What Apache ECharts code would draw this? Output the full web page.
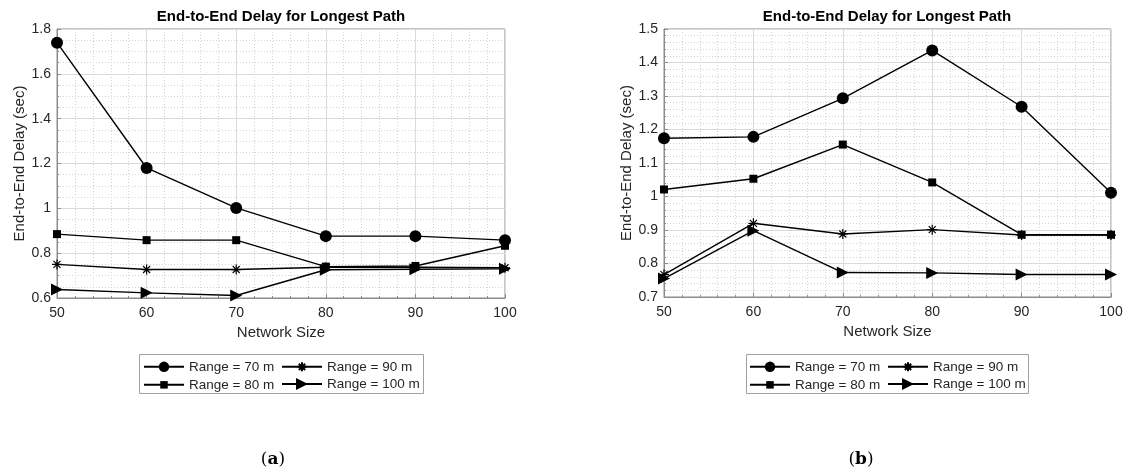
<!DOCTYPE html>
<html>
<head>
<meta charset="utf-8">
<script src="https://cdn.jsdelivr.net/npm/echarts@6/dist/echarts.min.js"></script>
<style>html,body{margin:0;padding:0;background:#fff}#c{width:1126px;height:472px}</style>
</head>
<body>
<div id="c"></div>
<script>
const networkSizes = [50, 60, 70, 80, 90, 100];
const seriesNames = ['Range = 70 m', 'Range = 80 m', 'Range = 90 m', 'Range = 100 m'];
// panel (a)
const a70 = [1.739, 1.18, 1.002, 0.876, 0.876, 0.858];
const a80 = [0.885, 0.858, 0.858, 0.740, 0.743, 0.833];
const a90 = [0.750, 0.727, 0.727, 0.737, 0.737, 0.735];
const a100 = [0.638, 0.623, 0.611, 0.726, 0.728, 0.730];
// panel (b)
const b70 = [1.174, 1.178, 1.293, 1.436, 1.268, 1.011];
const b80 = [1.021, 1.053, 1.155, 1.042, 0.886, 0.886];
const b90 = [0.767, 0.920, 0.888, 0.901, 0.885, 0.885];
const b100 = [0.755, 0.898, 0.773, 0.772, 0.767, 0.767];

const titleText = 'End-to-End Delay for Longest Path';
const xName = 'Network Size';
const yName = 'End-to-End Delay (sec)';
const captions = ['a', 'b'];

const FONT = '"Liberation Sans", Arial, sans-serif';
const AX = '#8c8c8c';
const TXT = '#262626';

const symbols = {
  'Range = 70 m': {symbol: 'circle', size: 12, legendSize: 10.5, fill: '#000'},
  'Range = 80 m': {symbol: 'rect', size: 8, legendSize: 7.5, fill: '#000'},
  'Range = 90 m': {symbol: 'path://M0,-10L0,10M-10,0L10,0M-7,-7L7,7M-7,7L7,-7', size: 10, legendSize: 9, fill: 'rgba(0,0,0,0)'},
  'Range = 100 m': {symbol: 'path://M0,0L10,5L0,10Z', size: [12, 12], legendSize: 12, fill: '#000'}
};

function pairs(vals) { return networkSizes.map((x, i) => [x, vals[i]]); }

function makeSeries(name, vals, gi) {
  const s = symbols[name];
  return {
    name: name, type: 'line', xAxisIndex: gi, yAxisIndex: gi,
    data: pairs(vals), symbol: s.symbol, symbolSize: s.size, showAllSymbol: true,
    clip: false, animation: false,
    lineStyle: {color: '#000', width: 1.4},
    itemStyle: {color: s.fill, borderColor: '#000', borderWidth: name === 'Range = 90 m' ? 1.2 : 0},
    emphasis: {disabled: true}
  };
}

function xAxis(gi) {
  return {
    type: 'value', gridIndex: gi, min: 50, max: 100, interval: 10,
    name: xName, nameLocation: 'middle', nameGap: 25,
    nameTextStyle: {fontFamily: FONT, fontSize: 15, color: TXT},
    axisLine: {show: true, lineStyle: {color: AX}},
    axisTick: {show: true, inside: true, length: 4, lineStyle: {color: AX}},
    minorTick: {show: true, splitNumber: 5, length: 2, lineStyle: {color: AX}},
    axisLabel: {fontFamily: FONT, fontSize: 14, color: TXT, margin: 8},
    splitLine: {show: true, lineStyle: {color: '#dadada', width: 1}},
    minorSplitLine: {show: true, lineStyle: {color: '#d4d4d4', width: 1, type: [1, 2]}}
  };
}
function yAxis(gi, min, max, interval, minorSplit, gap) {
  return {
    type: 'value', gridIndex: gi, min: min, max: max, interval: interval,
    name: yName, nameLocation: 'middle', nameGap: gap,
    nameTextStyle: {fontFamily: FONT, fontSize: 15, color: TXT},
    axisLine: {show: true, lineStyle: {color: AX}},
    axisTick: {show: true, inside: true, length: 4, lineStyle: {color: AX}},
    minorTick: {show: true, splitNumber: minorSplit, length: 2, lineStyle: {color: AX}},
    axisLabel: {fontFamily: FONT, fontSize: 14, color: TXT, margin: 6},
    splitLine: {show: true, lineStyle: {color: '#dadada', width: 1}},
    minorSplitLine: {show: true, lineStyle: {color: '#d4d4d4', width: 1, type: [1, 2]}}
  };
}
const TEXT_H = 13.3;
function legendItem(name, left, cy) {
  const h = symbols[name].legendSize / 0.8;
  return {
    data: [name], left: left, top: cy - Math.max(h, TEXT_H) / 2, orient: 'horizontal',
    itemWidth: 40, itemHeight: h, itemGap: 0, padding: 0,
    selectedMode: false,
    textStyle: {fontFamily: FONT, fontSize: 13.5, color: TXT}
  };
}
function legendBlock(offset) {
  return [
    legendItem(seriesNames[0], 143 + offset, 366.5),
    legendItem(seriesNames[2], 281 + offset, 366.5),
    legendItem(seriesNames[1], 143 + offset, 384.5),
    legendItem(seriesNames[3], 281 + offset, 384.5)
  ];
}

const chart = echarts.init(document.getElementById('c'), null, {renderer: 'canvas'});
chart.setOption({
  animation: false,
  backgroundColor: '#fff',
  grid: [
    {left: 57, top: 29, width: 448, height: 269, show: true, borderColor: AX, borderWidth: 1, backgroundColor: 'transparent'},
    {left: 664, top: 29, width: 447, height: 268, show: true, borderColor: AX, borderWidth: 1, backgroundColor: 'transparent'}
  ],
  xAxis: [xAxis(0), xAxis(1)],
  yAxis: [yAxis(0, 0.6, 1.8, 0.2, 4, 30), yAxis(1, 0.7, 1.5, 0.1, 5, 28)],
  legend: legendBlock(0).concat(legendBlock(606)),
  series: [
    makeSeries(seriesNames[0], a70, 0), makeSeries(seriesNames[1], a80, 0),
    makeSeries(seriesNames[2], a90, 0), makeSeries(seriesNames[3], a100, 0),
    makeSeries(seriesNames[0], b70, 1), makeSeries(seriesNames[1], b80, 1),
    makeSeries(seriesNames[2], b90, 1), makeSeries(seriesNames[3], b100, 1)
  ],
  graphic: [
    {type: 'rect', z: -1, shape: {x: 139.5, y: 354.5, width: 284, height: 39}, style: {fill: '#fff', stroke: '#a0a0a0', lineWidth: 1}},
    {type: 'rect', z: -1, shape: {x: 746.5, y: 354.5, width: 282, height: 39}, style: {fill: '#fff', stroke: '#a0a0a0', lineWidth: 1}},
    {type: 'text', x: 281, y: 17, style: {text: titleText, fontFamily: FONT, fontSize: 15, fontWeight: 'bold', fill: '#000', align: 'center', verticalAlign: 'middle'}},
    {type: 'text', x: 887, y: 17, style: {text: titleText, fontFamily: FONT, fontSize: 15, fontWeight: 'bold', fill: '#000', align: 'center', verticalAlign: 'middle'}},
    {type: 'text', x: 273, y: 460, style: {text: '{p|(}{b|' + captions[0] + '}{p|)}', align: 'center', verticalAlign: 'middle',
      rich: {p: {fontFamily: '"DejaVu Serif", serif', fontSize: 17, fill: '#000'}, b: {fontFamily: '"DejaVu Serif", serif', fontSize: 17, fontWeight: 'bold', fill: '#000'}}}},
    {type: 'text', x: 861, y: 460, style: {text: '{p|(}{b|' + captions[1] + '}{p|)}', align: 'center', verticalAlign: 'middle',
      rich: {p: {fontFamily: '"DejaVu Serif", serif', fontSize: 17, fill: '#000'}, b: {fontFamily: '"DejaVu Serif", serif', fontSize: 17, fontWeight: 'bold', fill: '#000'}}}}
  ]
});
</script>
</body>
</html>
